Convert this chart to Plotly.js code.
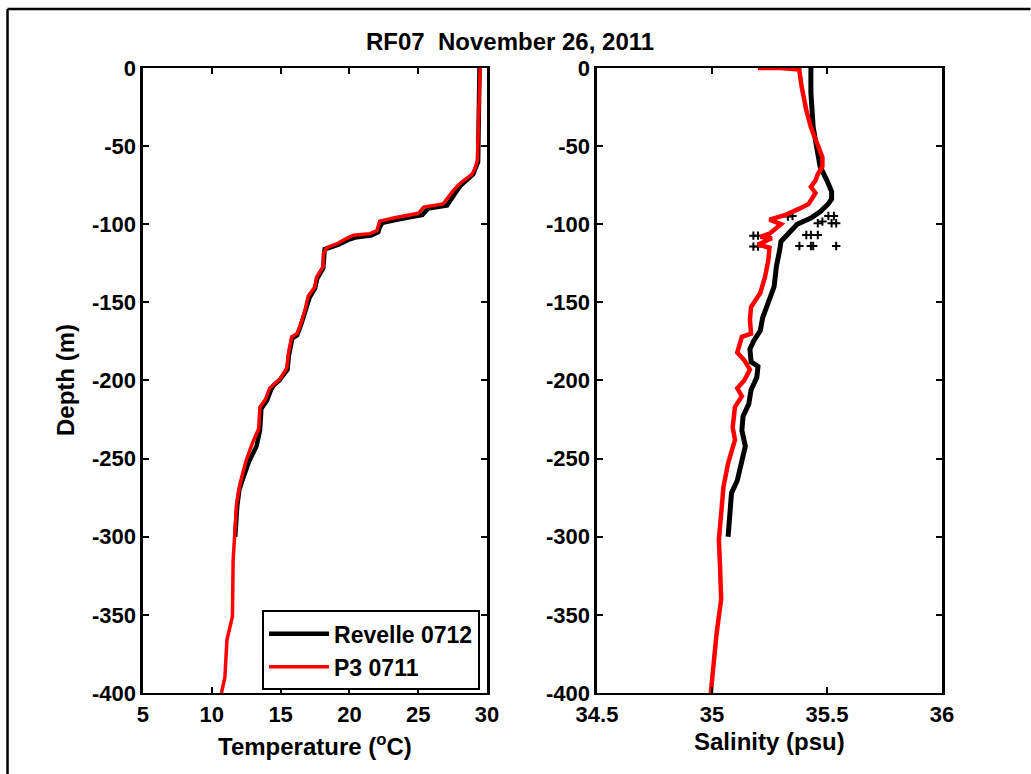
<!DOCTYPE html>
<html>
<head>
<meta charset="utf-8">
<script src="https://cdn.plot.ly/plotly-3.0.1.min.js"></script>
<style>html,body{margin:0;padding:0;background:#fff;}#chart{width:1031px;height:774px;}</style>
</head>
<body>
<div id="chart"></div>
<script>
// Temperature profile, P3 0711
var p3TempDepth = [0,-20,-50,-59,-65,-68,-72,-75,-79,-84,-87,-89,-93,-96,-98,-101,-104,-106,-107,-109,-112,-115,-119,-127,-134,-140,-146,-154,-163,-170,-172,-183,-192,-199,-205,-212,-217,-231,-239,-251,-266,-279,-291,-315,-351,-359,-366,-390,-400];
var p3Temp = [29.5,29.45,29.37,29.3,29.1,28.9,28.3,27.9,27.5,27.1,26.8,25.4,25.0,23.2,22.2,22.1,22.0,21.5,20.3,19.8,19.2,18.35,18.1,18.1,17.6,17.5,17.0,16.8,16.5,16.2,15.8,15.56,15.45,14.96,14.2,13.9,13.5,13.4,13.0,12.5,12.05,11.8,11.7,11.55,11.5,11.3,11.1,10.95,10.7];

// Temperature profile, Revelle 0712
var revTempDepth = [0,-50,-60,-68,-75,-80,-88,-90,-94,-97,-99,-102,-105,-107,-108.5,-110,-113,-116,-120,-128,-135,-141,-147,-155,-164,-171,-173,-184,-193,-200,-203,-206,-213,-218,-232,-242,-252,-262,-270,-280,-300];
var revTemp = [29.45,29.4,29.35,29.0,28.1,27.7,27.1,25.7,25.3,23.5,22.4,22.2,22.1,21.6,20.4,19.9,19.2,18.2,18.15,18.1,17.65,17.5,17.1,16.85,16.5,16.2,15.85,15.6,15.5,14.9,14.5,14.3,14.0,13.6,13.5,13.25,12.7,12.3,12.0,11.85,11.7];

// Salinity profile, P3 0711
var p3SalDepth = [0,0,-1,-2,-12,-27,-38,-48,-57,-63,-68,-72,-76,-80,-87,-90,-94,-97,-100,-106,-108,-109,-113,-115,-123,-134,-144,-153,-161,-170,-172,-182,-187,-193,-200,-205,-210,-217,-230,-238,-253,-268,-285,-302,-319,-340,-362,-379,-400];
var p3Sal = [35.20,35.30,35.38,35.38,35.39,35.41,35.43,35.455,35.48,35.48,35.46,35.45,35.43,35.45,35.42,35.38,35.32,35.25,35.30,35.25,35.21,35.26,35.20,35.25,35.245,35.23,35.21,35.17,35.165,35.17,35.13,35.11,35.14,35.165,35.14,35.11,35.13,35.10,35.09,35.10,35.07,35.05,35.04,35.03,35.035,35.04,35.02,35.01,34.995];

// Salinity profile, Revelle 0712
var revSalDepth = [0,-16,-38,-50,-63,-72,-79,-84,-87,-92,-96,-100,-106,-111,-116,-127,-140,-153,-160,-168,-175,-180,-188,-191,-198,-206,-215,-223,-232,-242,-249,-264,-272,-281,-300];
var revSal = [35.43,35.43,35.44,35.455,35.47,35.50,35.52,35.52,35.505,35.47,35.43,35.37,35.33,35.30,35.295,35.28,35.27,35.24,35.22,35.21,35.18,35.165,35.17,35.20,35.195,35.17,35.16,35.135,35.13,35.145,35.135,35.11,35.085,35.08,35.07];

// Revelle salinity spikes (isolated samples)
var revSpikeDepth = [-94.7,-94.7,-99.4,-99.4,-98.3,-99.4,-106.9,-106.9,-106.9,-107.3,-107.3,-114.3,-114.3,-113.9,-113.9,-113.9,-113.9,-95,-94.7];
var revSpikeSal = [35.506,35.53,35.52,35.54,35.48,35.46,35.41,35.43,35.46,35.18,35.20,35.18,35.20,35.38,35.43,35.44,35.54,35.33,35.35];

var seriesNames = ['Revelle 0712', 'P3 0711'];
var depthTicks = [0,-50,-100,-150,-200,-250,-300,-350,-400];
var depthTickText = ['0','-50','-100','-150','-200','-250','-300','-350','-400'];
var tempTicks = [5,10,15,20,25,30];
var salTicks = [34.5,35,35.5,36];
var salTickText = ['34.5','35','35.5','36'];

var FONT = 'Liberation Sans, Arial, Helvetica, sans-serif';

var traces = [
  {x: revTemp, y: revTempDepth, xaxis:'x', yaxis:'y', mode:'lines', name: seriesNames[0],
   line:{color:'#000000', width:4.5}},
  {x: p3Temp, y: p3TempDepth, xaxis:'x', yaxis:'y', mode:'lines', name: seriesNames[1],
   line:{color:'#ff0000', width:3.5}},
  {x: revSal, y: revSalDepth, xaxis:'x2', yaxis:'y2', mode:'lines', name: seriesNames[0], showlegend:false,
   line:{color:'#000000', width:5}},
  {x: revSpikeSal, y: revSpikeDepth, xaxis:'x2', yaxis:'y2', mode:'markers', name: seriesNames[0], showlegend:false,
   marker:{symbol:'cross-thin', size:6, line:{color:'#000000', width:2}, color:'#000000'}},
  {x: p3Sal, y: p3SalDepth, xaxis:'x2', yaxis:'y2', mode:'lines', name: seriesNames[1], showlegend:false,
   line:{color:'#ff0000', width:4.5}}
];

var axisCommon = {
  showgrid:false, zeroline:false, showline:true, linecolor:'#000', linewidth:2.5,
  mirror:'ticks', ticks:'inside', ticklen:6, tickwidth:2, tickcolor:'#000',
  tickfont:{family:FONT, size:22, color:'#000', weight:'bold'}
};

function ax(extra){ var o = {}; for (var k in axisCommon) o[k]=axisCommon[k]; for (var k2 in extra) o[k2]=extra[k2]; return o; }

var layout = {
  width:1031, height:774,
  margin:{l:0, r:0, t:0, b:0},
  paper_bgcolor:'#fff', plot_bgcolor:'#fff',
  font:{family:FONT, color:'#000', weight:'bold'},
  title:{text:'RF07  November 26, 2011', x:0.4947, xref:'paper', xanchor:'center', y:0.9457, yref:'paper', yanchor:'middle',
         font:{family:FONT, size:24, color:'#000', weight:'bold'}},
  xaxis: ax({domain:[0.1387,0.4724], range:[5,30], tickvals:tempTicks, anchor:'y'}),
  yaxis: ax({domain:[0.1047,0.9121], range:[-400,0], tickvals:depthTicks, ticktext:depthTickText, anchor:'x'}),
  xaxis2: ax({domain:[0.5790,0.9137], range:[34.5,36], tickvals:salTicks, ticktext:salTickText, anchor:'y2'}),
  yaxis2: ax({domain:[0.1047,0.9121], range:[-400,0], tickvals:depthTicks, ticktext:depthTickText, anchor:'x2'}),
  showlegend:true,
  legend:{x:0.4656, xanchor:'right', y:0.108, yanchor:'bottom', bgcolor:'#fff', bordercolor:'#000', borderwidth:2,
          itemwidth:60,
          font:{family:FONT, size:23, color:'#000', weight:'bold'}, tracegroupgap:0},
  annotations:[
    {text:'Depth (m)', xref:'paper', yref:'paper', x:0.063, y:0.509, textangle:-90, showarrow:false,
     xanchor:'center', yanchor:'middle', font:{family:FONT, size:24, color:'#000', weight:'bold'}},
    {text:'Temperature (<sup>o</sup>C)', xref:'paper', yref:'paper', x:0.3055, y:0.0375, showarrow:false,
     xanchor:'center', yanchor:'middle', font:{family:FONT, size:24, color:'#000', weight:'bold'}},
    {text:'Salinity (psu)', xref:'paper', yref:'paper', x:0.7468, y:0.0426, showarrow:false,
     xanchor:'center', yanchor:'middle', font:{family:FONT, size:24, color:'#000', weight:'bold'}}
  ],
  shapes:[
    {type:'line', xref:'paper', yref:'paper', x0:0.0073, x1:0.0073, y0:0, y1:0.9884, line:{color:'#000', width:2.5}},
    {type:'line', xref:'paper', yref:'paper', x0:0.0073, x1:0.9995, y0:0.9884, y1:0.9884, line:{color:'#000', width:2.5}}
  ]
};

Plotly.newPlot('chart', traces, layout, {displayModeBar:false, staticPlot:true});
</script>
</body>
</html>
